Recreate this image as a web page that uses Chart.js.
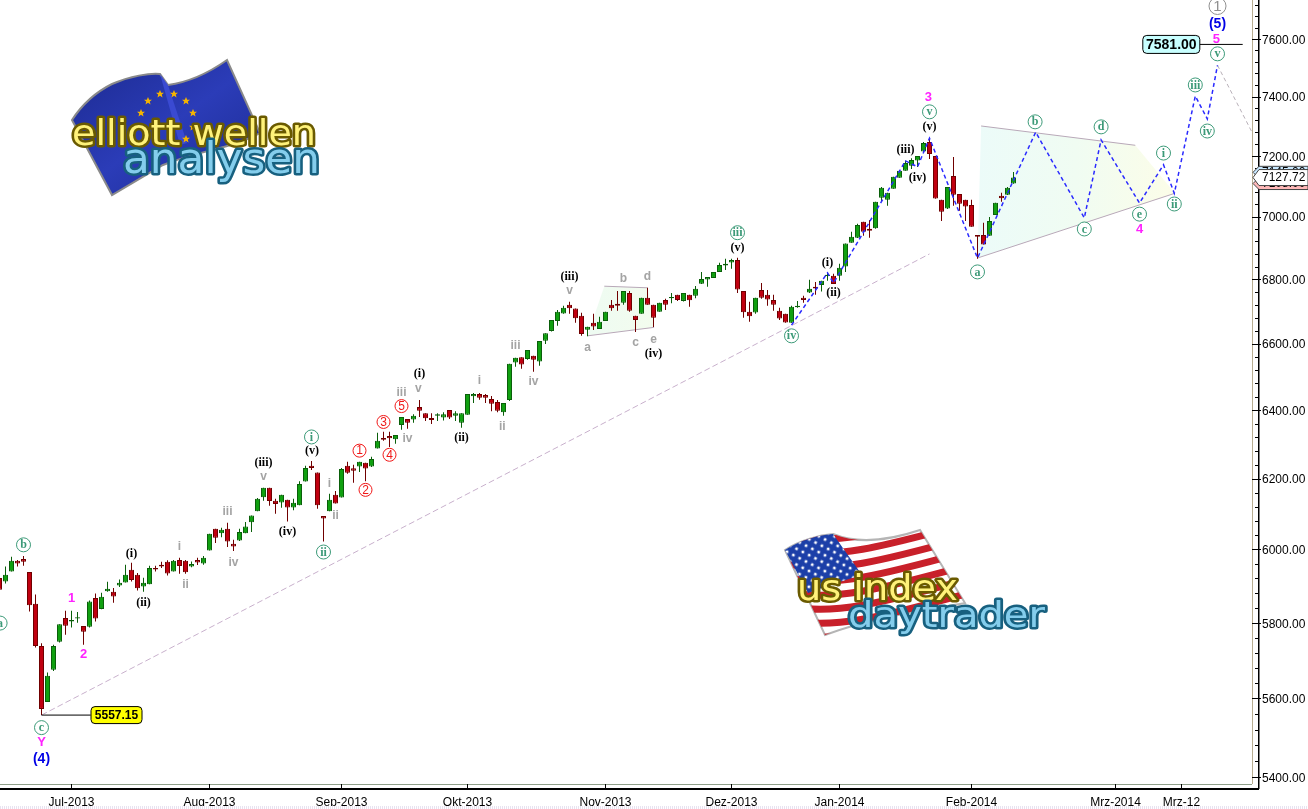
<!DOCTYPE html>
<html>
<head>
<meta charset="utf-8">
<title>Elliott Wellen</title>
<script src="https://cdn.jsdelivr.net/npm/chart.js@4/dist/chart.umd.min.js"></script>
<style>
  html, body { margin: 0; padding: 0; background: #fff; overflow: hidden; }
  #wrap { position: relative; width: 1308px; height: 809px; }
  #chart { position: absolute; left: 0; top: 0; }
  #logos { position: absolute; left: 0; top: 0; pointer-events: none; }
  #strip { position: absolute; left: 0; top: 806px; width: 1308px; height: 3px;
    background: repeating-linear-gradient(90deg, #e8e2f0 0 1px, #fff 1px 2px); }
  .logo { font-family: "DejaVu Sans", sans-serif; paint-order: stroke; stroke-linejoin: round; }
  .yellow { fill: #fff27a; stroke: #6a5a00; stroke-width: 5; }
  .azure { fill: #84cdec; stroke: #17607f; stroke-width: 5; }
</style>
</head>
<body>
<div id="wrap">
  <canvas id="chart" width="1308" height="809"></canvas>
  <svg id="logos" width="1308" height="809">
    <defs>
      <linearGradient id="euBlue" x1="0" y1="0" x2="1" y2="1">
        <stop offset="0" stop-color="#1c2a90"/>
        <stop offset="0.5" stop-color="#2b3cb8"/>
        <stop offset="1" stop-color="#1c2a90"/>
      </linearGradient>
      <path id="star" fill="#f5b400" d="M0,-4 L1.2,-1.2 4,-1.2 1.8,.6 2.5,3.6 0,1.8 -2.5,3.6 -1.8,.6 -4,-1.2 -1.2,-1.2Z"/>
      <clipPath id="usClip"><path d="M785,550 C800,540 820,535 833,534 C860,545 890,540 920,530 L965,603 C930,610 880,615 825,635 Z"/></clipPath>
      <path id="stripe" fill="none" stroke="#c8202a" stroke-width="7" d="M790,550 C830,560 880,548 980,520"/>
      <pattern id="usStars" width="10" height="10" patternUnits="userSpaceOnUse" patternTransform="rotate(-18)">
        <circle cx="3" cy="3" r="1.5" fill="#fff"/><circle cx="8" cy="8" r="1.5" fill="#fff"/>
      </pattern>
    </defs>

    <path d="M72,120 C85,100 100,90 112,84 C130,76 150,73 160,74 L168,85 C190,82 210,72 227,60 L260,133 C235,148 200,150 163,165 L112,195 Z"
      fill="url(#euBlue)" stroke="#8a8a8a" stroke-width="2"/>
    <path d="M160,74 L168,85 L187,143 L180,145 Z" fill="#3a4ad2"/>
    <use href="#star" x="160" y="94"/><use href="#star" x="174" y="94"/><use href="#star" x="186" y="101"/>
    <use href="#star" x="193" y="113"/><use href="#star" x="148" y="101"/><use href="#star" x="141" y="113"/>
    <use href="#star" x="193" y="127"/><use href="#star" x="186" y="139"/><use href="#star" x="147" y="137"/>
    <text class="logo yellow" x="72" y="145" font-size="36" textLength="244" lengthAdjust="spacingAndGlyphs">elliott wellen</text>
    <text class="logo azure" x="123" y="173" font-size="42" textLength="197" lengthAdjust="spacingAndGlyphs">analysen</text>

    <path d="M785,550 C800,540 820,535 833,534 C860,545 890,540 920,530 L965,603 C930,610 880,615 825,635 Z"
      fill="#fff" stroke="#b5b5b5" stroke-width="2"/>
    <g clip-path="url(#usClip)">
      <use href="#stripe" y="-28"/><use href="#stripe" y="-14"/><use href="#stripe"/><use href="#stripe" y="14"/>
      <use href="#stripe" y="28"/><use href="#stripe" y="42"/><use href="#stripe" y="56"/><use href="#stripe" y="70"/>
      <use href="#stripe" y="84"/>
    </g>
    <path d="M785,550 C800,540 820,535 833,534 L862,575 C845,580 825,587 808,593 Z" fill="#1c3fa8"/>
    <path d="M785,550 C800,540 820,535 833,534 L862,575 C845,580 825,587 808,593 Z" fill="url(#usStars)"/>
    <text class="logo yellow" x="797" y="600" font-size="36" textLength="161" lengthAdjust="spacingAndGlyphs">us index</text>
    <text class="logo azure" x="848" y="627" font-size="36" textLength="197" lengthAdjust="spacingAndGlyphs">daytrader</text>
  </svg>
  <div id="strip"></div>
</div>
<script>
const opens = [
  5921,5912,5939,5969,5974,5938,5851,5738,5591,5675,
  5749,5813,5803,5811,5791,5789,5867,5837,5885,5884,
  5901,5909,5944,5930,5898,5904,5949,5958,5966,5939,
  5971,5969,5953,5971,5961,5997,6058,6045,6058,6016,
  6025,6045,6076,6107,6147,6174,6137,6132,6140,6118,
  6124,6192,6237,6218,6094,6107,6154,6146,6237,6230,
  6235,6246,6235,6287,6318,6324,6314,6356,6374,6372,
  6409,6391,6377,6383,6378,6400,6383,6363,6386,6441,
  6448,6445,6433,6424,6394,6430,6543,6559,6553,6563,
  6546,6609,6639,6670,6693,6720,6708,6686,6643,6664,
  6645,6670,6720,6723,6726,6757,6686,6692,6742,6720,
  6698,6735,6740,6751,6732,6751,6748,6786,6799,6804,
  6823,6843,6853,6861,6763,6698,6696,6766,6751,6735,
  6701,6692,6664,6712,6742,6758,6776,6782,6810,6811,
  6811,6840,6916,6932,6983,6961,6962,7061,7055,7091,
  7127,7150,7167,7184,7214,7246,7199,7055,7026,7133,
  7074,7055,7038,6941,6941,6938,7005,7068,7071,7108,
];
const highs = [
  5925,5953,5980,5971,5982,5938,5876,5745,5668,5741,
  5796,5832,5832,5829,5791,5860,5879,5881,5911,5894,
  5917,5958,5963,5935,5922,5955,5955,5966,5970,5971,
  5977,5971,5967,5977,5982,6044,6058,6061,6075,6027,
  6058,6077,6095,6145,6174,6174,6143,6154,6140,6143,
  6193,6237,6251,6218,6094,6157,6165,6231,6249,6240,
  6249,6246,6263,6333,6336,6336,6327,6380,6374,6388,
  6430,6391,6391,6391,6394,6400,6397,6391,6448,6451,
  6451,6448,6442,6430,6421,6539,6557,6559,6581,6563,
  6608,6632,6673,6704,6717,6729,6708,6695,6652,6692,
  6683,6698,6735,6763,6763,6763,6686,6742,6773,6720,
  6726,6739,6757,6751,6757,6751,6779,6823,6807,6823,
  6852,6865,6865,6868,6763,6729,6742,6788,6766,6751,
  6711,6692,6717,6732,6748,6798,6791,6795,6820,6817,
  6849,6913,6951,6977,6983,6989,7048,7097,7078,7130,
  7153,7183,7192,7199,7246,7257,7199,7055,7097,7196,
  7074,7055,7055,6941,6980,6999,7045,7078,7097,7146,
];
const lows = [
  5885,5906,5939,5953,5955,5830,5734,5557.15,5591,5672,
  5747,5768,5787,5800,5741,5787,5803,5836,5884,5854,
  5897,5909,5912,5887,5884,5904,5939,5949,5928,5939,
  5933,5933,5951,5957,5958,5997,6018,6034,6007,5996,
  6024,6045,6049,6107,6137,6123,6100,6117,6078,6110,
  6124,6192,6225,6114,6022,6107,6129,6146,6214,6188,
  6219,6193,6234,6287,6310,6292,6301,6342,6345,6363,
  6380,6368,6359,6368,6369,6374,6368,6348,6386,6421,
  6431,6421,6397,6394,6383,6427,6530,6524,6551,6515,
  6533,6599,6637,6655,6692,6692,6664,6624,6623,6642,
  6645,6670,6701,6701,6720,6698,6636,6692,6720,6651,
  6698,6704,6725,6732,6730,6714,6740,6785,6776,6804,
  6823,6829,6833,6757,6680,6667,6692,6739,6717,6701,
  6673,6664,6664,6711,6726,6757,6751,6761,6795,6785,
  6795,6823,6916,6931,6938,6932,6961,7048,7035,7091,
  7127,7150,7156,7163,7212,7189,7058,6986,7025,7035,
  7019,6986,6967,6865,6910,6938,7005,7048,7070,7107,
];
const closes = [
  5889,5930,5969,5961,5966,5847,5738,5573,5659,5738,
  5796,5792,5807,5815,5776,5857,5811,5870,5892,5871,
  5908,5930,5916,5893,5908,5949,5945,5953,5934,5969,
  5954,5937,5960,5964,5977,6044,6033,6055,6022,6008,
  6049,6064,6095,6143,6174,6136,6128,6154,6118,6131,
  6185,6231,6231,6124,6087,6140,6129,6228,6217,6223,
  6249,6229,6257,6310,6313,6317,6327,6380,6363,6383,
  6398,6376,6371,6388,6388,6378,6391,6391,6448,6448,
  6437,6437,6419,6398,6421,6539,6557,6537,6581,6551,
  6608,6632,6673,6698,6711,6709,6678,6630,6652,6653,
  6667,6698,6709,6717,6763,6701,6673,6742,6720,6680,
  6726,6720,6744,6735,6757,6734,6770,6801,6807,6823,
  6845,6849,6861,6768,6697,6684,6742,6742,6736,6720,
  6677,6665,6714,6717,6735,6770,6771,6795,6814,6785,
  6836,6913,6935,6973,6951,6954,7048,7094,7078,7130,
  7150,7176,7186,7199,7243,7206,7059,7016,7097,7071,
  7042,7033,6967,6935,6910,6986,7045,7060,7094,7127.72,
];

const monthBars = [12, 35, 57, 78, 101, 122, 140, 162, 186, 197];
const monthLabels = ["Jul-2013", "Aug-2013", "Sep-2013", "Okt-2013", "Nov-2013", "Dez-2013", "Jan-2014", "Feb-2014", "Mrz-2014", "Mrz-12"];
const priceTicks = [5400, 5600, 5800, 6000, 6200, 6400, 6600, 6800, 7000, 7200, 7400, 7600];

// wave path, forecast included
const waveBars = [132, 138, 139, 151, 153, 155, 163, 172.7, 180.8, 183.6, 190, 194, 195.8, 199.3, 201.3, 203];
const wavePrices = [6657, 6820, 6788, 7183, 7163, 7259, 6867, 7279, 6996, 7253, 7044, 7170, 7076, 7402, 7324, 7508];
const fallBars = [203, 208.75];
const fallPrices = [7508, 7279];
const trendBars = [7, 155];
const trendPrices = [5557.15, 6880];

const smallTriBars = [98, 100.8, 108, 109.1];
const smallTriPrices = [6624, 6778, 6773, 6650];
const bigTriBars = [163, 163.6, 189.3, 195.9];
const bigTriPrices = [6867, 7300, 7235, 7076];

const calloutBars = [19.5, 195.3];
const calloutValues = [5557.15, 7581.0];
const calloutLeaderBars = [[7, 15.2], [200, 207.2]];
const priceTags = [7145, 7108, 7127.72];

const magentaLabels = [["1", 12, 5865], ["2", 14, 5715], ["Y", 7, 5487], ["3", 154.8, 7398], ["4", 190, 6960], ["5", 202.8, 7600]];
const blueLabels = [["(4)", 7, 5446], ["(5)", 203, 7652]];
const blackLabels = [
  ["(i)", 22, 5988], ["(ii)", 24, 5854], ["(iii)", 44, 6246], ["(iv)", 48, 6049], ["(v)", 52.1, 6281],
  ["(i)", 70, 6508], ["(ii)", 77, 6317], ["(iii)", 95, 6807], ["(iv)", 109, 6569], ["(v)", 123, 6900],
  ["(i)", 138, 6852], ["(ii)", 139, 6757], ["(iii)", 151, 7220], ["(iv)", 153, 7127], ["(v)", 155, 7297],
];
const greyLabels = [
  ["i", 30, 6007], ["ii", 31, 5903], ["iii", 38, 6106], ["iv", 39, 5963], ["v", 44, 6205],
  ["i", 55, 6187], ["ii", 56, 6095], ["iii", 67, 6452], ["iv", 68, 6316], ["v", 69.8, 6464],
  ["i", 80, 6488], ["ii", 83.8, 6351], ["iii", 86, 6593], ["iv", 89, 6485], ["v", 95, 6763],
  ["a", 98, 6587], ["b", 104, 6801], ["c", 106, 6602], ["d", 108, 6807], ["e", 109, 6611],
];
const greenCircled = [
  ["b", 4, 6013], ["a", 0.1, 5799], ["c", 7, 5525], ["i", 52, 6321], ["ii", 54, 5993],
  ["iii", 123, 6948], ["iv", 132, 6624], ["v", 155, 7348], ["a", 163, 6823], ["b", 172.6, 7314],
  ["c", 180.8, 6960], ["d", 183.6, 7297], ["e", 190, 7008], ["i", 194, 7209], ["ii", 195.8, 7041],
  ["iii", 199.3, 7440], ["iv", 201.3, 7283], ["v", 203, 7548],
];
const redCircled = [["1", 60, 6281], ["2", 61, 6168], ["3", 64, 6365], ["4", 65, 6269], ["5", 67, 6412]];
const greyCircled = [["1", 203, 7717]];

const GREEN = "#10a010", GREEN_DARK = "#0a5f0a", RED = "#c00010", RED_DARK = "#700000";
const SANS = '"Liberation Sans", Arial, sans-serif';
const SERIF = '"Liberation Serif", "Times New Roman", serif';

const isUp = opens.map((o, i) => closes[i] >= o);

function points(bars, prices) {
  return bars.map((x, i) => ({ x, y: prices[i] }));
}

function lineSet(data, color, width, dash, order) {
  return {
    type: "line",
    data,
    borderColor: color,
    borderWidth: width,
    borderDash: dash,
    pointRadius: 0,
    tension: 0,
    fill: false,
    order,
  };
}

// pale fill of the two triangles, under the candles
const shadePlugin = {
  id: "shade",
  beforeDatasetsDraw(chart) {
    const { ctx, scales } = chart;
    const shade = (bars, prices, stops) => {
      const xs = bars.map((b) => scales.x.getPixelForValue(b));
      const ys = prices.map((p) => scales.y.getPixelForValue(p));
      const g = ctx.createLinearGradient(Math.min(...xs), 0, Math.max(...xs), 0);
      stops.forEach((s, i) => g.addColorStop(i / (stops.length - 1), s));
      ctx.beginPath();
      xs.forEach((x, i) => (i ? ctx.lineTo(x, ys[i]) : ctx.moveTo(x, ys[i])));
      ctx.closePath();
      ctx.fillStyle = g;
      ctx.fill();
    };
    ctx.save();
    shade(smallTriBars, smallTriPrices, ["#eefbf2", "#f3fcee"]);
    shade(bigTriBars, bigTriPrices, ["#ecfbf9", "#f0fcf2", "#fcfde8"]);
    ctx.restore();
  },
};

// wave labels, callouts and price tags
const notesPlugin = {
  id: "notes",
  afterDatasetsDraw(chart) {
    const { ctx, scales } = chart;
    const px = (b) => scales.x.getPixelForValue(b);
    const py = (p) => scales.y.getPixelForValue(p);
    ctx.save();
    ctx.textAlign = "center";
    ctx.textBaseline = "middle";

    const plain = (list, font, color) => {
      ctx.font = font;
      ctx.fillStyle = color;
      list.forEach(([t, b, p]) => ctx.fillText(t, px(b), py(p)));
    };
    plain(magentaLabels, "bold 13px " + SANS, "#ff22ff");
    plain(blueLabels, "bold 14px " + SANS, "#0000e6");
    plain(blackLabels, "bold 12px " + SERIF, "#000");
    plain(greyLabels, "bold 12px " + SANS, "#a4a4a4");

    const circled = (list, r, font, color) => {
      list.forEach(([t, b, p]) => {
        ctx.beginPath();
        ctx.arc(px(b), py(p), r, 0, Math.PI * 2);
        ctx.fillStyle = "#fff";
        ctx.fill();
        ctx.strokeStyle = color;
        ctx.lineWidth = 1;
        ctx.stroke();
        ctx.font = font;
        ctx.fillStyle = color;
        ctx.fillText(t, px(b), py(p) + 0.5);
      });
    };
    circled(greenCircled, 7, "bold 12px " + SERIF, "#3c9a78");
    circled(redCircled, 6.5, "12px " + SANS, "#f01818");
    circled(greyCircled, 8.5, "15px " + SANS, "#909090");

    // callouts with their value
    const colors = ["#ffff00", "#c8ffff"];
    const fonts = ["bold 12px " + SANS, "bold 14px " + SANS];
    const sizes = [[51, 17], [57, 18]];
    calloutValues.forEach((v, i) => {
      const [w, h] = sizes[i];
      const x = px(calloutBars[i]);
      const y = py(v);
      ctx.beginPath();
      ctx.roundRect(x - w / 2, y - h / 2, w, h, 4);
      ctx.fillStyle = colors[i];
      ctx.fill();
      ctx.strokeStyle = "#000";
      ctx.lineWidth = 1;
      ctx.stroke();
      ctx.font = fonts[i];
      ctx.fillStyle = "#000";
      ctx.fillText(v.toFixed(2), x, y + 0.5);
    });

    // tags on the price axis, the last close on top
    const tagFill = ["#c8e8ff", "#ffb8b8", "#fff"];
    const tagHalf = [6, 6, 8];
    ctx.font = "12px " + SANS;
    ctx.textAlign = "left";
    priceTags.forEach((v, i) => {
      const y = py(v);
      const h = tagHalf[i];
      ctx.beginPath();
      ctx.moveTo(1253, y);
      ctx.lineTo(1259, y - h);
      ctx.lineTo(1308, y - h);
      ctx.lineTo(1308, y + h);
      ctx.lineTo(1259, y + h);
      ctx.closePath();
      ctx.fillStyle = tagFill[i];
      ctx.fill();
      ctx.strokeStyle = "#444";
      ctx.lineWidth = 1;
      ctx.stroke();
      ctx.fillStyle = "#000";
      ctx.fillText(v.toFixed(2), 1262, y + 0.5);
    });
    ctx.restore();
  },
};

// the two-line axis frame with its tick marks
const framePlugin = {
  id: "frame",
  beforeDatasetsDraw(chart) {
    const { ctx, scales, chartArea } = chart;
    const { right, bottom } = chartArea;
    ctx.save();
    ctx.fillStyle = "#b8ad90";
    ctx.fillRect(right, 0, 1, bottom);
    ctx.fillStyle = "#8f9f8a";
    ctx.fillRect(0, bottom, right, 1);
    ctx.fillStyle = "#000";
    ctx.fillRect(0, bottom + 4, right + 7, 2);
    ctx.fillRect(right + 6, 0, 1.5, bottom + 5);
    monthBars.forEach((b) => {
      ctx.fillRect(Math.floor(scales.x.getPixelForValue(b)), bottom, 1, 5);
    });
    for (let p = 5400; p < 7740; p += 40) {
      const y = Math.round(scales.y.getPixelForValue(p));
      if (p % 200 === 0) ctx.fillRect(right, y, 9, 1);
      else ctx.fillRect(right + 3, y, 3, 1);
    }
    ctx.restore();
  },
};

new Chart(document.getElementById("chart"), {
  type: "bar",
  data: {
    datasets: [
      lineSet(points(waveBars, wavePrices), "#2a2aff", 1.5, [4, 3], 0),
      lineSet(points(fallBars, fallPrices), "#b8b0b8", 1, [4, 3], 0),
      lineSet(points(calloutLeaderBars[0], [calloutValues[0], calloutValues[0]]), "#000", 1, [], 0),
      lineSet(points(calloutLeaderBars[1], [calloutValues[1], calloutValues[1]]), "#000", 1, [], 0),
      {
        label: "body",
        data: opens.map((o, i) => ({ x: i, y: [Math.min(o, closes[i]), Math.max(o, closes[i])] })),
        backgroundColor: isUp.map((u) => (u ? GREEN : RED)),
        borderColor: isUp.map((u) => (u ? GREEN_DARK : RED_DARK)),
        borderWidth: 1,
        borderSkipped: false,
        grouped: false,
        categoryPercentage: 1,
        barPercentage: 5 / 6,
        order: 1,
      },
      {
        label: "wick",
        data: opens.map((o, i) => ({ x: i, y: [lows[i], highs[i]] })),
        backgroundColor: isUp.map((u) => (u ? GREEN_DARK : RED_DARK)),
        borderWidth: 0,
        grouped: false,
        categoryPercentage: 1,
        barPercentage: 1 / 6,
        order: 2,
      },
      lineSet(points(trendBars, trendPrices), "#c8b0cc", 1, [6, 3], 3),
      lineSet(points(smallTriBars.slice(1, 3), smallTriPrices.slice(1, 3)), "#b8a8b8", 1, [], 3),
      lineSet(points([smallTriBars[0], smallTriBars[3]], [smallTriPrices[0], smallTriPrices[3]]), "#b8a8b8", 1, [], 3),
      lineSet(points(bigTriBars.slice(1, 3), bigTriPrices.slice(1, 3)), "#b8a8b8", 1, [], 3),
      lineSet(points([bigTriBars[0], bigTriBars[3]], [bigTriPrices[0], bigTriPrices[3]]), "#b8a8b8", 1, [], 3),
    ],
  },
  options: {
    responsive: false,
    animation: false,
    events: [],
    layout: { padding: 0 },
    plugins: { legend: { display: false }, tooltip: { enabled: false } },
    scales: {
      x: {
        type: "linear",
        offset: false,
        min: 0.5 / 6,
        max: 0.5 / 6 + 1252 / 6,
        grid: { display: false, drawTicks: false },
        border: { display: false },
        afterBuildTicks: (scale) => {
          scale.ticks = monthBars.map((value) => ({ value }));
        },
        afterFit: (scale) => {
          scale.height = 25;
        },
        ticks: {
          autoSkip: false,
          maxRotation: 0,
          padding: 11,
          color: "#000",
          font: { family: SANS, size: 12 },
          callback: (v) => monthLabels[monthBars.indexOf(v)],
        },
      },
      y: {
        type: "logarithmic",
        position: "right",
        bounds: "data",
        min: 5382.6,
        max: 7738.5,
        grid: { display: false, drawTicks: false },
        border: { display: false },
        afterBuildTicks: (scale) => {
          scale.ticks = priceTicks.map((value) => ({ value }));
        },
        afterFit: (scale) => {
          scale.width = 56;
          // no room kept for the first and last label, the plot runs to the top edge
          scale.paddingTop = 0;
          scale.paddingBottom = 0;
        },
        ticks: {
          autoSkip: false,
          padding: 10,
          labelOffset: 1.5,
          color: "#000",
          font: { family: SANS, size: 12 },
          callback: (v) => v.toFixed(2),
        },
      },
    },
  },
  plugins: [shadePlugin, framePlugin, notesPlugin],
});
</script>
</body>
</html>
